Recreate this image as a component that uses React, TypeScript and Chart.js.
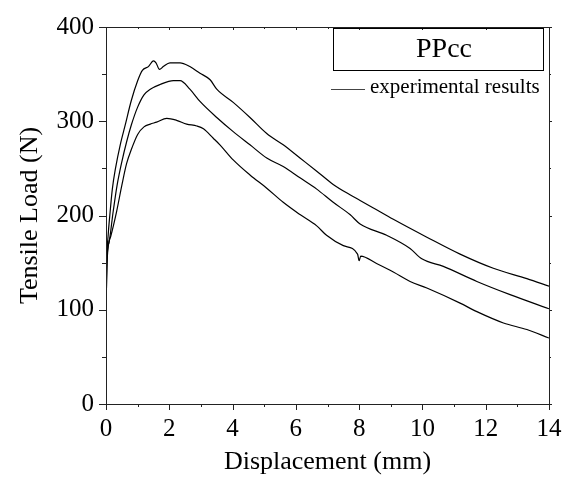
import React, { useEffect, useRef } from "react";
import { Chart, registerables } from "chart.js";

Chart.register(...registerables);

const xTicks = [0, 2, 4, 6, 8, 10, 12, 14];
const yTicks = [0, 100, 200, 300, 400];

const topX = [0, 0.01, 0.03, 0.07, 0.12, 0.2, 0.3, 0.45, 0.6, 0.8, 1.0, 1.15, 1.34, 1.5, 1.58, 1.69, 1.81, 2.02, 2.34, 2.65, 2.97, 3.29, 3.5, 4.02, 4.55, 5.08, 5.6, 6.13, 6.66, 7.18, 7.71, 8.03, 8.45, 9.08, 10.14, 11.19, 12.24, 13.3, 14];
const topY = [50, 110, 155, 180, 200, 228, 250, 275, 295, 322, 343, 354, 358, 364, 362, 355, 358, 362, 362, 358, 351, 344, 334, 320, 304, 287, 275, 261, 247, 233, 222, 216, 208, 196, 177, 159, 144, 133, 125];

const midX = [0, 0.01, 0.03, 0.1, 0.23, 0.35, 0.5, 0.65, 0.8, 1.0, 1.2, 1.4, 1.71, 2.13, 2.34, 2.65, 2.97, 3.5, 4.02, 4.55, 5.08, 5.6, 6.13, 6.66, 7.18, 7.71, 8.03, 8.87, 9.61, 9.98, 10.66, 11.72, 12.77, 14];
const midY = [50, 110, 152, 172, 205, 232, 257, 278, 296, 315, 328, 334, 339, 343, 343, 334, 321, 304, 289, 275, 261, 252, 240, 228, 214, 201, 191, 179, 165, 154, 146, 130, 116, 101];

const botX = [0, 0.01, 0.04, 0.15, 0.34, 0.5, 0.65, 0.8, 1.0, 1.2, 1.4, 1.6, 1.92, 2.23, 2.55, 2.87, 3.08, 3.39, 3.6, 4.02, 4.55, 5.08, 5.6, 6.13, 6.66, 6.97, 7.5, 7.95, 8.0, 8.05, 8.55, 9.08, 9.61, 10.14, 11.19, 11.72, 12.56, 13.3, 14];
const botY = [50, 110, 155, 178, 205, 232, 255, 270, 286, 294, 297, 299, 303, 301, 297, 295, 292, 282, 275, 259, 243, 229, 214, 201, 189, 179, 168, 159, 152, 157, 149, 140, 130, 123, 107, 98, 86, 79, 70];

const xTitle = "Displacement (mm)";
const yTitle = "Tensile Load (N)";
const boxLabel = "PPcc";
const legendLabel = "experimental results";

const FONT = "'Liberation Serif', 'Times New Roman', serif";

function toPts(xs: number[], ys: number[]) {
  return xs.map((x, i) => ({ x, y: ys[i] }));
}

const framePlugin = {
  id: "frame",
  afterDraw(chart: any) {
    const { ctx, chartArea } = chart;
    const { left, right, top, bottom } = chartArea;
    const xs = chart.scales.x;
    const ys = chart.scales.y;
    ctx.save();
    ctx.strokeStyle = "#222";
    ctx.lineWidth = 1;
    ctx.beginPath();
    ctx.rect(Math.round(left) + 0.5, Math.round(top) + 0.5, Math.round(right - left), Math.round(bottom - top));
    ctx.stroke();
    ctx.beginPath();
    for (let v = 0; v <= 14; v += 1) {
      const px = Math.round(xs.getPixelForValue(v)) + 0.5;
      const len = v % 2 === 0 ? 6 : 3;
      ctx.moveTo(px, Math.round(bottom));
      ctx.lineTo(px, Math.round(bottom) + len);
      ctx.moveTo(px, Math.round(top));
      ctx.lineTo(px, Math.round(top) + (v % 2 === 0 ? 3 : 2));
    }
    for (let v = 0; v <= 400; v += 50) {
      const py = Math.round(ys.getPixelForValue(v)) + 0.5;
      const len = v % 100 === 0 ? 7 : 4;
      ctx.moveTo(Math.round(left), py);
      ctx.lineTo(Math.round(left) - len, py);
      ctx.moveTo(Math.round(right), py);
      ctx.lineTo(Math.round(right) + (v % 100 === 0 ? 3 : 2), py);
    }
    ctx.stroke();

    // axis titles
    ctx.fillStyle = "#000";
    ctx.font = `26px ${FONT}`;
    ctx.textAlign = "center";
    ctx.textBaseline = "middle";
    ctx.fillText(xTitle, (left + right) / 2, 462);
    ctx.save();
    ctx.translate(30, (top + bottom) / 2);
    ctx.rotate(-Math.PI / 2);
    ctx.fillText(yTitle, 0, 0);
    ctx.restore();

    // legend box
    ctx.lineWidth = 1;
    ctx.strokeStyle = "#000";
    ctx.strokeRect(333.5, 28.5, 210, 42);
    ctx.font = `28px ${FONT}`;
    ctx.fillText(boxLabel, 444, 50);
    ctx.beginPath();
    ctx.moveTo(331, 89.5);
    ctx.lineTo(365, 89.5);
    ctx.strokeStyle = "#444";
    ctx.stroke();
    ctx.font = `21px ${FONT}`;
    ctx.textAlign = "left";
    ctx.fillText(legendLabel, 370, 87);
    ctx.restore();
  },
};

export default function App() {
  const ref = useRef<HTMLCanvasElement | null>(null);
  useEffect(() => {
    if (!ref.current) return;
    const mk = (xs: number[], ys: number[]) => ({
      data: toPts(xs, ys),
      borderColor: "#000",
      borderWidth: 1.2,
      pointRadius: 0,
      fill: false,
      tension: 0.3,
      cubicInterpolationMode: "monotone" as const,
    });
    const chart = new Chart(ref.current, {
      type: "line",
      data: { datasets: [mk(topX, topY), mk(midX, midY), mk(botX, botY)] },
      options: {
        animation: false,
        responsive: false,
        maintainAspectRatio: false,
        layout: { padding: { top: 22, right: 24, left: 0, bottom: 0 } },
        plugins: { legend: { display: false }, tooltip: { enabled: false } },
        scales: {
          x: {
            type: "linear",
            min: 0,
            max: 14,
            afterFit: (s: any) => { s.height = 81; },
            afterBuildTicks: (s: any) => { s.ticks = xTicks.map((v) => ({ value: v })); },
            grid: { display: false, drawTicks: false },
            border: { display: false },
            ticks: { color: "#000", font: { family: FONT, size: 25 }, padding: 10, maxRotation: 0, autoSkip: false },
          },
          y: {
            type: "linear",
            min: 0,
            max: 400,
            afterFit: (s: any) => { s.width = 106; },
            afterBuildTicks: (s: any) => { s.ticks = yTicks.map((v) => ({ value: v })); },
            grid: { display: false, drawTicks: false },
            border: { display: false },
            ticks: { color: "#000", font: { family: FONT, size: 25 }, padding: 12, autoSkip: false },
          },
        },
      },
      plugins: [framePlugin],
    });
    return () => chart.destroy();
  }, []);
  return (
    <div style={{ position: "fixed", left: 0, top: 0, width: 573, height: 485, background: "#fff" }}>
      <canvas ref={ref} width={573} height={485} style={{ width: 573, height: 485, display: "block" }} />
    </div>
  );
}
